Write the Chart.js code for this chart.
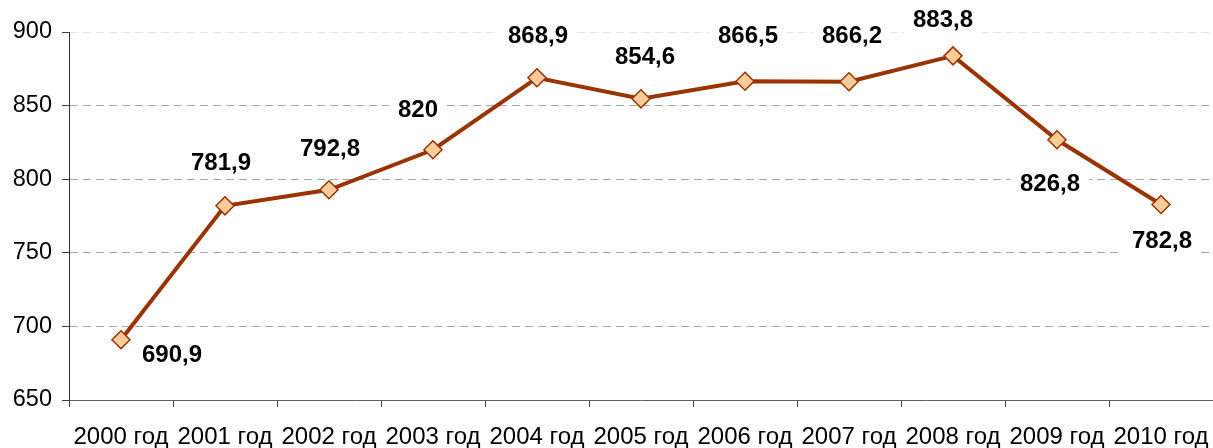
<!DOCTYPE html>
<html>
<head>
<meta charset="utf-8">
<script src="https://cdn.jsdelivr.net/npm/chart.js@4/dist/chart.umd.min.js"></script>
<style>
  html, body { margin: 0; padding: 0; background: #ffffff; }
  #wrap { width: 1213px; height: 448px; }
</style>
</head>
<body>
<div id="wrap"><canvas id="c" width="1213" height="448"></canvas></div>
<script>
// Categories and values
const years = ['2000 год', '2001 год', '2002 год', '2003 год', '2004 год', '2005 год',
               '2006 год', '2007 год', '2008 год', '2009 год', '2010 год'];
const values = [690.9, 781.9, 792.8, 820, 868.9, 854.6, 866.5, 866.2, 883.8, 826.8, 782.8];
const yTicks = [650, 700, 750, 800, 850, 900];

// Where each value label sits relative to its point (px)
const labelOffsets = [
  [51, 15], [-4, -43], [1, -41], [-15, -40], [1, -42], [4, -42],
  [3, -46], [3, -46], [-10, -36], [-7, 44], [1, 36]
];

const fmt = v => String(v).replace('.', ',');

const valueLabels = {
  id: 'valueLabels',
  afterDatasetsDraw(chart) {
    const ctx = chart.ctx;
    const meta = chart.getDatasetMeta(0);
    ctx.save();
    ctx.font = 'bold 24px "Liberation Sans", Arial, sans-serif';
    ctx.textAlign = 'center';
    ctx.textBaseline = 'middle';
    meta.data.forEach((pt, i) => {
      const txt = fmt(values[i]);
      const x = pt.x + labelOffsets[i][0];
      const y = pt.y + labelOffsets[i][1];
      const w = ctx.measureText(txt).width;
      ctx.fillStyle = '#ffffff';
      ctx.fillRect(x - w / 2 - 9, y - 14, w + 18, 28);
      ctx.fillStyle = '#000000';
      ctx.fillText(txt, x, y + 1);
    });
    ctx.restore();
  }
};

new Chart(document.getElementById('c'), {
  type: 'line',
  data: {
    labels: years,
    datasets: [{
      data: values,
      borderColor: '#993300',
      borderWidth: 4,
      tension: 0,
      pointStyle: 'rectRot',
      pointRadius: 9,
      pointHoverRadius: 9,
      pointBackgroundColor: '#FFCC99',
      pointBorderColor: '#993300',
      pointBorderWidth: 1.5
    }]
  },
  options: {
    responsive: false,
    animation: false,
    events: [],
    layout: { autoPadding: false, padding: { top: 32, right: 0, left: 0, bottom: 0 } },
    plugins: { legend: { display: false }, tooltip: { enabled: false } },
    scales: {
      x: {
        offset: true,
        grid: {
          offset: true,
          drawOnChartArea: false,
          drawTicks: true,
          tickLength: 7,
          tickColor: '#404040'
        },
        border: { color: '#606060', width: 1 },
        ticks: {
          autoSkip: false,
          maxRotation: 0,
          minRotation: 0,
          padding: 16,
          color: '#000000',
          font: { family: '"Liberation Sans", Arial, sans-serif', size: 24 }
        },
        afterFit(scale) {
          scale.height = 48;
          scale.paddingLeft = 0;
          scale.paddingRight = 0;
        }
      },
      y: {
        min: 650,
        max: 900,
        afterBuildTicks(scale) { scale.ticks = yTicks.map(v => ({ value: v })); },
        grid: {
          color: ctx => (ctx.tick && ctx.tick.value === 900) ? '#e4e4e4' : '#a6a6a6',
          lineWidth: 1,
          tickLength: 7,
          tickColor: '#404040',
          tickBorderDash: [],
          drawTicks: true
        },
        border: { color: '#303030', width: 1, dash: [8, 5] },
        ticks: {
          padding: 10,
          color: '#000000',
          font: { family: '"Liberation Sans", Arial, sans-serif', size: 23.5 }
        },
        afterFit(scale) { scale.width = 69; }
      }
    }
  },
  plugins: [valueLabels]
});
</script>
</body>
</html>
